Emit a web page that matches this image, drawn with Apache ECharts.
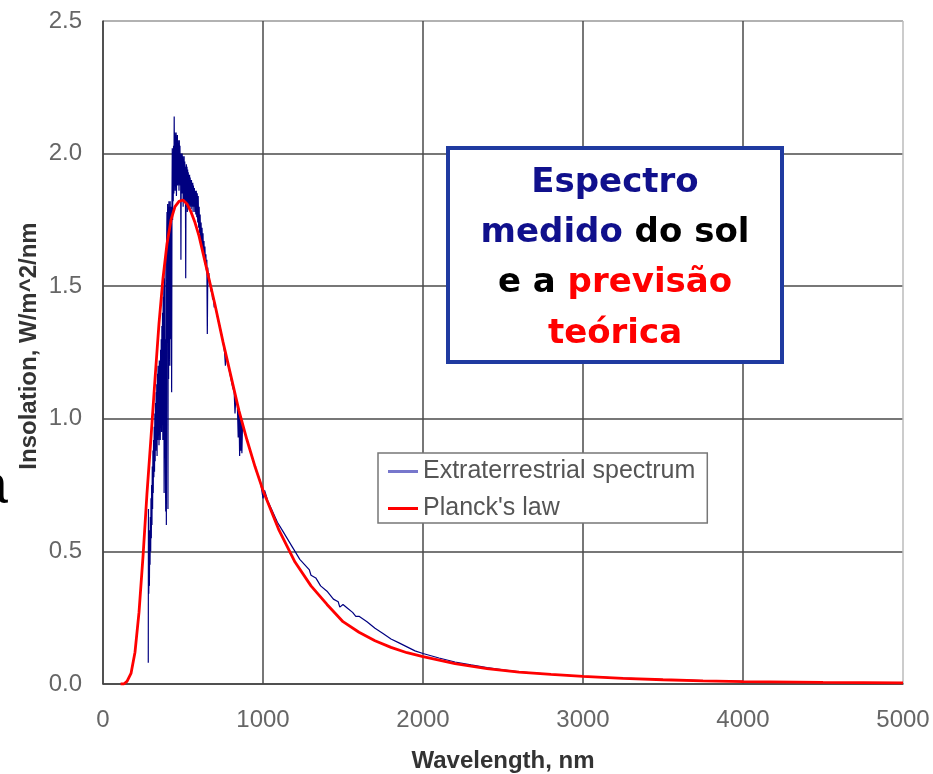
<!DOCTYPE html>
<html><head><meta charset="utf-8">
<script src="https://cdn.jsdelivr.net/npm/echarts@6/dist/echarts.min.js"></script>
<style>html,body{margin:0;padding:0;background:#fff}#c{width:933px;height:774px}</style>
</head><body><div id="c"></div>
<script>
// Measured extraterrestrial solar spectrum [wavelength nm, W/m^2/nm]
const spectrum = [
[283,0.08],[284,0.66],[286,0.34],[288,0.5],[290,0.37],[292,0.58],[294,0.45],[296,0.63],[298,0.5],[300,0.7],
[302,0.55],[304,0.75],[306,0.6],[308,0.82],[310,0.66],[312,0.88],[314,0.72],[316,0.92],[318,0.78],[320,0.97],
[322,0.8],[324,1.02],[326,0.84],[328,1.06],[330,0.88],[332,1.1],[334,0.9],[336,1.13],[338,0.86],[340,1.17],
[342,0.92],[344,1.2],[346,0.95],[348,1.18],[350,0.9],[352,1.22],[354,0.95],[356,1.2],[358,0.92],[360,1.26],
[362,1.0],[364,1.3],[366,0.95],[368,1.35],[370,1.05],[372,1.4],[374,0.92],[376,1.46],[378,1.1],[380,1.5],
[382,0.72],[384,1.53],[386,1.05],[388,1.58],[390,0.85],[392,0.65],[394,1.3],[396,0.6],[398,1.68],[400,1.78],
[402,1.3],[404,1.81],[406,0.66],[408,1.8],[410,1.15],[412,1.82],[414,1.4],[416,1.8],[418,1.2],[420,1.82],
[422,1.45],[424,1.8],[426,1.3],[428,1.78],[429,1.1],[431,1.8],[433,2.02],[435,1.75],[437,1.98],[439,1.82],
[441,2.03],[443,1.85],[445,2.14],[447,1.88],[449,2.08],[451,1.86],[453,2.07],[455,1.9],[457,2.08],[459,1.84],
[461,2.06],[463,1.92],[465,2.07],[467,1.88],[469,2.05],[471,1.9],[473,2.04],[475,1.86],[477,2.05],[479,1.92],
[481,2.03],[483,1.88],[485,2.0],[487,1.6],[489,1.95],[491,2.0],[493,1.85],[495,2.0],[497,1.86],[499,1.99],
[501,1.8],[503,1.98],[505,1.85],[507,1.99],[509,1.82],[511,1.97],[513,1.84],[515,1.95],[517,1.53],[519,1.9],
[521,1.96],[523,1.8],[525,1.95],[527,1.78],[529,1.94],[531,1.85],[533,1.93],[535,1.8],[537,1.92],[539,1.83],
[541,1.92],[543,1.8],[545,1.91],[547,1.82],[549,1.9],[551,1.79],[553,1.9],[555,1.82],[557,1.89],[559,1.8],
[561,1.89],[563,1.78],[565,1.88],[568,1.8],[571,1.87],[574,1.78],[577,1.86],[580,1.77],[583,1.86],[586,1.76],
[589,1.85],[592,1.74],[595,1.84],[598,1.72],[601,1.8],[604,1.7],[607,1.77],[610,1.68],[613,1.74],[616,1.66],
[619,1.72],[622,1.64],[625,1.7],[628,1.62],[631,1.67],[634,1.6],[637,1.65],[640,1.58],[643,1.62],[646,1.56],
[649,1.6],[652,1.32],[655,1.57],[658,1.52],[662,1.55],[666,1.5],[670,1.52],[675,1.48],[680,1.49],[685,1.45],
[690,1.46],[695,1.42],[700,1.43],[710,1.4],[720,1.37],[730,1.35],[740,1.32],[750,1.29],[760,1.25],[765,1.2],
[770,1.24],[780,1.21],[790,1.18],[800,1.15],[810,1.12],[820,1.1],[825,1.02],[830,1.08],[840,1.05],[845,0.93],
[850,1.03],[854,0.86],[858,1.01],[862,0.88],[866,0.99],[868,0.87],[872,0.98],[880,0.96],[890,0.94],[900,0.92],
[920,0.88],[940,0.84],[960,0.8],[980,0.77],[990,0.74],[1000,0.7],[1010,0.73],[1030,0.69],[1060,0.65],[1090,0.61],
[1120,0.58],[1150,0.55],[1180,0.52],[1200,0.5],[1230,0.47],[1260,0.45],[1290,0.43],[1300,0.41],[1330,0.4],[1360,0.37],
[1400,0.35],[1440,0.32],[1470,0.31],[1480,0.29],[1500,0.3],[1530,0.285],[1560,0.27],[1580,0.255],[1600,0.255],[1650,0.235],
[1700,0.21],[1750,0.19],[1800,0.17],[1850,0.155],[1900,0.14],[1950,0.125],[2000,0.115],[2100,0.098],[2200,0.083],[2300,0.072],
[2400,0.062],[2500,0.053],[2600,0.046],[2800,0.036],[3000,0.029],[3200,0.023],[3500,0.017],[3800,0.012],[4000,0.01]
];
// Planck's law curve [wavelength nm, W/m^2/nm]
const planck = [
[110,0],[130,0],[150,0.01],[175,0.04],[200,0.12],[225,0.27],[250,0.48],[275,0.72],[300,0.93],[325,1.15],
[350,1.36],[375,1.53],[400,1.66],[425,1.75],[450,1.8],[475,1.82],[500,1.825],[525,1.81],[550,1.78],[575,1.74],
[600,1.69],[650,1.56],[700,1.43],[750,1.29],[800,1.16],[850,1.03],[900,0.92],[950,0.82],[1000,0.73],[1100,0.58],
[1200,0.46],[1300,0.37],[1400,0.3],[1500,0.235],[1600,0.195],[1700,0.163],[1800,0.138],[1900,0.118],[2000,0.103],
[2200,0.077],[2400,0.058],[2600,0.045],[2800,0.036],[3000,0.029],[3250,0.021],[3500,0.016],[3750,0.012],
[4000,0.009],[4500,0.006],[5000,0.004]
];
const seriesNames = ['Extraterrestrial spectrum', "Planck's law"];
const xTitle = 'Wavelength, nm';
const yTitle = 'Insolation, W/m^2/nm';

const chart = echarts.init(document.getElementById('c'), null, {renderer: 'canvas'});
const gridCol = '#4a4a4a';
const option = {
  animation: false,
  backgroundColor: '#fff',
  grid: {left: 103, right: 30, top: 21, bottom: 90, containLabel: false},
  xAxis: {
    type: 'value', min: 0, max: 5000, interval: 1000,
    axisLine: {show: true, lineStyle: {color: '#444', width: 1.5}},
    axisTick: {show: false},
    axisLabel: {color: '#666', fontSize: 24, fontFamily: 'Liberation Sans', margin: 24,
      formatter: v => String(v)},
    splitLine: {show: true, lineStyle: {color: [gridCol, gridCol, gridCol, gridCol, gridCol, '#bbb'], width: 1.5}}
  },
  yAxis: {
    type: 'value', min: 0, max: 2.5, interval: 0.5,
    axisLine: {show: true, lineStyle: {color: '#444', width: 1.5}},
    axisTick: {show: false},
    axisLabel: {color: '#666', fontSize: 24, fontFamily: 'Liberation Sans', margin: 21,
      formatter: v => v.toFixed(1)},
    splitLine: {show: true, lineStyle: {color: [gridCol, gridCol, gridCol, gridCol, gridCol, '#999'], width: 1.5}}
  },
  legend: {
    show: true, orient: 'vertical', left: 378, top: 453,
    padding: [6, 12, 2, 10], itemGap: 12, itemWidth: 30, itemHeight: 3,
    backgroundColor: '#fff', borderColor: '#777', borderWidth: 1.5, borderRadius: 0,
    textStyle: {fontSize: 25, color: '#555', fontFamily: 'Liberation Sans'},
    z: 10,
    data: [
      {name: seriesNames[0], icon: 'rect', itemStyle: {color: '#7777cc'}},
      {name: seriesNames[1], icon: 'rect', itemStyle: {color: '#ff0000'}}
    ]
  },
  series: [
    {type: 'line', name: seriesNames[0], data: spectrum, showSymbol: false, symbol: 'none',
     lineStyle: {color: '#000080', width: 1.2}, itemStyle: {color: '#000080'}, z: 2},
    {type: 'line', name: seriesNames[1], data: planck, showSymbol: false, symbol: 'none',
     lineStyle: {color: '#ff0000', width: 2.8}, itemStyle: {color: '#ff0000'}, z: 3}
  ],
  graphic: [
    {type: 'text', x: 503, y: 761, z: 20,
     style: {text: xTitle, align: 'center', verticalAlign: 'middle', font: 'bold 24px Liberation Sans', fill: '#333'}},
    {type: 'text', x: 29, y: 346, rotation: Math.PI / 2, z: 20,
     style: {text: yTitle, align: 'center', verticalAlign: 'middle', font: 'bold 24px Liberation Sans', fill: '#333'}},
    {type: 'text', x: 8, y: 488, z: 20,
     style: {text: 'a', align: 'right', verticalAlign: 'middle', font: 'normal 56px Liberation Sans', fill: '#000'}},
    {type: 'rect', z: 20, shape: {x: 448, y: 148, width: 334, height: 214},
     style: {fill: '#fff', stroke: '#1f3aa0', lineWidth: 4}},
    {type: 'text', x: 615, y: 183, z: 21,
     style: {text: '{b|Espectro}', align: 'center', verticalAlign: 'middle', font: 'bold 34px DejaVu Sans',
       rich: {b: {fill: '#10108c', font: 'bold 34px DejaVu Sans'}}}},
    {type: 'text', x: 615, y: 233, z: 21,
     style: {text: '{b|medido}{k| do sol}', align: 'center', verticalAlign: 'middle', font: 'bold 34px DejaVu Sans',
       rich: {b: {fill: '#10108c', font: 'bold 34px DejaVu Sans'}, k: {fill: '#000', font: 'bold 34px DejaVu Sans'}}}},
    {type: 'text', x: 615, y: 283, z: 21,
     style: {text: '{k|e a }{r|previsão}', align: 'center', verticalAlign: 'middle', font: 'bold 34px DejaVu Sans',
       rich: {k: {fill: '#000', font: 'bold 34px DejaVu Sans'}, r: {fill: '#ff0000', font: 'bold 34px DejaVu Sans'}}}},
    {type: 'text', x: 615, y: 334, z: 21,
     style: {text: '{r|teórica}', align: 'center', verticalAlign: 'middle', font: 'bold 34px DejaVu Sans',
       rich: {r: {fill: '#ff0000', font: 'bold 34px DejaVu Sans'}}}}
  ]
};
chart.setOption(option);
</script>
</body></html>
